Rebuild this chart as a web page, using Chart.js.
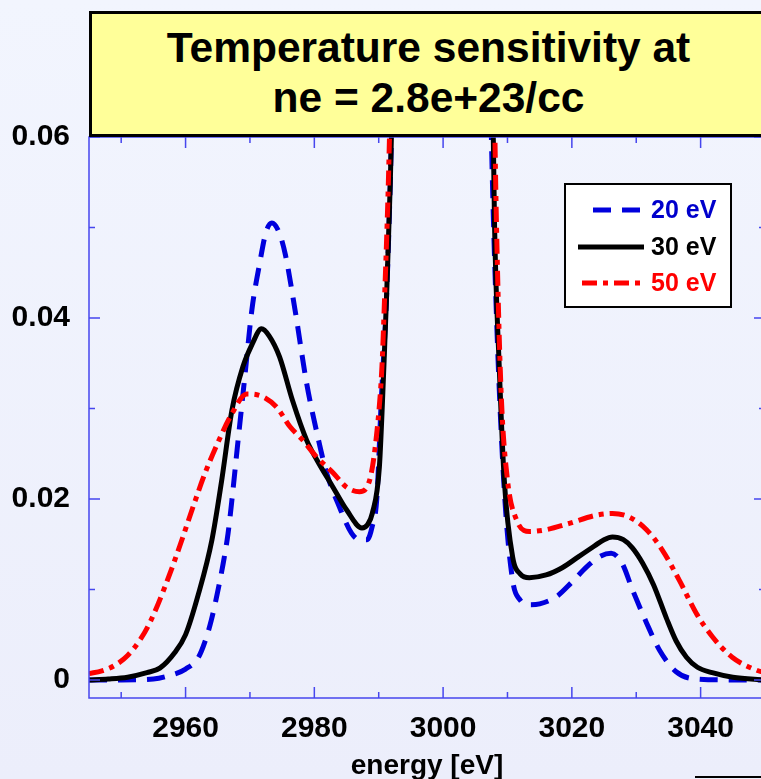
<!DOCTYPE html>
<html>
<head>
<meta charset="utf-8">
<script src="https://cdn.jsdelivr.net/npm/chart.js@4.4.1/dist/chart.umd.min.js"></script>
<style>
  html, body { margin: 0; padding: 0; }
  body {
    width: 761px; height: 779px; overflow: hidden; position: relative;
    background: linear-gradient(#f2f5fe, #eceefb);
    font-family: "Liberation Sans", Arial, sans-serif;
  }
  #wrap { position: absolute; left: 0; top: 0; width: 790px; height: 779px; }
  #title {
    position: absolute; left: 89px; top: 11px; width: 679px; height: 126px;
    box-sizing: border-box; border: 3px solid #000; background: #ffff99;
    padding-top: 9px; text-align: center;
    font: bold 42.5px "Liberation Sans", Arial, sans-serif; line-height: 50px; color: #000;
  }
  #corner { position: absolute; left: 695px; top: 776px; width: 70px; height: 2px; background: #000; }
</style>
</head>
<body>
<div id="wrap"><canvas id="chart"></canvas></div>
<div id="title">Temperature sensitivity at<br>ne = 2.8e+23/cc</div>
<div id="corner"></div>
<script>
const seriesLabels = ['20 eV', '30 eV', '50 eV'];

const energy20 = [2945, 2950, 2955, 2957.6, 2960, 2962, 2963, 2964, 2965, 2966, 2966.6, 2967.2, 2968, 2969.2, 2970.3, 2971.5, 2972.5, 2973.4, 2974.5, 2975.5, 2977, 2978.8, 2980.4, 2981.9, 2983.9, 2985.8, 2987, 2988.2, 2989, 2989.7, 2990.4, 2991.2, 2991.8, 2992.3, 2994, 3000, 3006, 3007.5, 3008.3, 3009.5, 3010.8, 3012, 3013.4, 3015, 3017.6, 3020, 3022.3, 3024.5, 3026.1, 3027.8, 3029.4, 3031.6, 3033.6, 3036.2, 3039.3, 3045, 3050];
const value20 = [0, 0, 0.0001, 0.0005, 0.0012, 0.0025, 0.0042, 0.0066, 0.0098, 0.0135, 0.0162, 0.0199, 0.0254, 0.0335, 0.0409, 0.046, 0.0495, 0.0505, 0.0495, 0.047, 0.0409, 0.0328, 0.0273, 0.0229, 0.0191, 0.0162, 0.0155, 0.0155, 0.017, 0.02, 0.031, 0.042, 0.055, 0.07, 0.12, 0.2, 0.12, 0.06, 0.04, 0.021, 0.011, 0.0088, 0.0083, 0.0084, 0.0092, 0.0108, 0.0125, 0.0137, 0.014, 0.0129, 0.01, 0.0063, 0.0033, 0.0009, 0.0001, 0, 0];

const energy30 = [2945, 2948, 2951, 2954, 2956, 2958.3, 2960, 2962, 2964.1, 2965.6, 2967.2, 2968.9, 2970.4, 2971.8, 2973, 2974.6, 2976.6, 2978.8, 2980.4, 2982.9, 2985, 2987.4, 2988.3, 2989, 2990.1, 2990.8, 2991.2, 2991.8, 2992.3, 2994, 3000, 3006, 3007.6, 3008, 3008.7, 3009.5, 3010.8, 3012, 3013.4, 3016, 3018.5, 3021, 3023.5, 3025, 3026.3, 3028, 3029.4, 3031, 3032.7, 3034.7, 3036.2, 3037.8, 3039.5, 3041.8, 3045, 3050];
const value30 = [0, 0.0001, 0.0003, 0.0008, 0.0013, 0.003, 0.005, 0.0095, 0.0155, 0.022, 0.0298, 0.0346, 0.0372, 0.0388, 0.038, 0.0357, 0.0309, 0.0265, 0.0243, 0.0213, 0.0188, 0.0168, 0.0172, 0.0184, 0.0235, 0.0346, 0.042, 0.055, 0.07, 0.12, 0.2, 0.12, 0.07, 0.05, 0.035, 0.0221, 0.0136, 0.0117, 0.0113, 0.0116, 0.0124, 0.0136, 0.0148, 0.0155, 0.0158, 0.0155, 0.0146, 0.0129, 0.0105, 0.0068, 0.0043, 0.0025, 0.0014, 0.0008, 0.0003, 0];

const energy50 = [2945, 2947, 2949, 2951, 2953, 2954.5, 2956.8, 2959.1, 2961.1, 2963, 2965, 2967.1, 2969.5, 2972, 2974.2, 2976.2, 2978.2, 2980.4, 2982.9, 2985, 2987, 2988.6, 2989.7, 2990.5, 2990.9, 2991.5, 2992, 2994, 3000, 3006, 3007.8, 3008.3, 3009, 3010, 3011.4, 3013.4, 3016, 3019.6, 3023.8, 3026.3, 3028.9, 3031.6, 3034, 3036.7, 3039.3, 3041.8, 3044.9, 3048.6, 3050];
const value50 = [0.0007, 0.001, 0.0016, 0.0027, 0.0045, 0.0064, 0.0103, 0.0148, 0.019, 0.0228, 0.0262, 0.0293, 0.0316, 0.0313, 0.0301, 0.028, 0.0265, 0.0246, 0.0229, 0.0213, 0.0208, 0.0221, 0.0273, 0.0346, 0.042, 0.055, 0.07, 0.12, 0.2, 0.12, 0.07, 0.05, 0.032, 0.0221, 0.0177, 0.0164, 0.0166, 0.0173, 0.0182, 0.0184, 0.018, 0.0166, 0.0144, 0.011, 0.0074, 0.0048, 0.0025, 0.0011, 0.0008];

const xTicks = [2950, 2960, 2970, 2980, 2990, 3000, 3010, 3020, 3030, 3040, 3050];
const xLabels = [2960, 2980, 3000, 3020, 3040];
const yTicks = [0, 0.01, 0.02, 0.03, 0.04, 0.05, 0.06];
const yLabels = [0, 0.02, 0.04, 0.06];

const colors = ['#0000dd', '#000000', '#ff0000'];
const textColors = ['#0000cc', '#000000', '#ff0000'];
const dashes = [[18, 11], [], [15, 6, 5, 6]];

function toPoints(xs, ys) {
  return xs.map((x, i) => ({ x: x, y: ys[i] }));
}

function isLabel(list, v) {
  return list.some(l => Math.abs(l - v) < 1e-9);
}

const tickFont = { family: 'Liberation Sans', size: 30, weight: 'bold' };

// frame with inward ticks + legend box
const frame = {
  id: 'frame',
  afterDatasetsDraw(chart) {
    const { ctx, chartArea: a, scales } = chart;
    ctx.save();
    ctx.strokeStyle = '#4646ee';
    ctx.lineWidth = 1.5;
    ctx.strokeRect(a.left, a.top, a.right - a.left, a.bottom - a.top);
    ctx.beginPath();
    xTicks.forEach(v => {
      const px = scales.x.getPixelForValue(v);
      const len = isLabel(xLabels, v) ? 11 : 6;
      ctx.moveTo(px, a.bottom); ctx.lineTo(px, a.bottom - len);
      ctx.moveTo(px, a.top); ctx.lineTo(px, a.top + len);
    });
    yTicks.forEach(v => {
      const py = scales.y.getPixelForValue(v);
      const len = isLabel(yLabels, v) ? 11 : 6;
      ctx.moveTo(a.left, py); ctx.lineTo(a.left + len, py);
      ctx.moveTo(a.right, py); ctx.lineTo(a.right - len, py);
    });
    ctx.stroke();

    // legend
    const bx = 565, by = 184, bw = 166, bh = 123;
    ctx.fillStyle = '#ffffff';
    ctx.fillRect(bx, by, bw, bh);
    ctx.strokeStyle = '#000';
    ctx.lineWidth = 2;
    ctx.strokeRect(bx, by, bw, bh);
    const rows = [210, 247, 283];
    const starts = [593, 578, 582];
    ctx.font = 'bold 25px "Liberation Sans"';
    ctx.textBaseline = 'middle';
    ctx.textAlign = 'left';
    chart.data.datasets.forEach((ds, i) => {
      ctx.beginPath();
      ctx.strokeStyle = ds.borderColor;
      ctx.lineWidth = ds.borderWidth;
      ctx.setLineDash(ds.borderDash);
      ctx.moveTo(starts[i], rows[i]);
      ctx.lineTo(644, rows[i]);
      ctx.stroke();
      ctx.setLineDash([]);
      ctx.fillStyle = textColors[i];
      ctx.fillText(ds.label, 651, rows[i] + 1);
    });
    ctx.restore();
  }
};

new Chart(document.getElementById('chart'), {
  type: 'line',
  data: {
    datasets: [
      { label: seriesLabels[0], data: toPoints(energy20, value20), order: 3 },
      { label: seriesLabels[1], data: toPoints(energy30, value30), order: 2 },
      { label: seriesLabels[2], data: toPoints(energy50, value50), order: 1 }
    ].map((ds, i) => Object.assign(ds, {
      borderColor: colors[i],
      borderWidth: 5,
      borderDash: dashes[i],
      pointRadius: 0,
      fill: false,
      cubicInterpolationMode: 'monotone'
    }))
  },
  options: {
    responsive: true,
    maintainAspectRatio: false,
    animation: false,
    layout: { padding: { top: 137, right: 25, left: 0, bottom: 0 } },
    plugins: {
      legend: { display: false },
      tooltip: { enabled: false }
    },
    scales: {
      x: {
        type: 'linear',
        min: 2945,
        max: 3050,
        grid: { display: false, drawTicks: false },
        border: { display: false },
        afterBuildTicks: scale => { scale.ticks = xTicks.map(v => ({ value: v })); },
        afterFit: scale => { scale.height = 81; },
        ticks: {
          autoSkip: false,
          maxRotation: 0,
          padding: 13,
          color: '#000',
          font: tickFont,
          callback: v => isLabel(xLabels, v) ? String(v) : ''
        },
        title: {
          display: true,
          text: 'energy [eV]',
          color: '#000',
          font: { family: 'Liberation Sans', size: 28, weight: 'bold' },
          padding: { top: 0, bottom: -4 }
        }
      },
      y: {
        min: -0.002,
        max: 0.06,
        grid: { display: false, drawTicks: false },
        border: { display: false },
        afterBuildTicks: scale => { scale.ticks = yTicks.map(v => ({ value: v })); },
        afterFit: scale => { scale.width = 89; },
        ticks: {
          autoSkip: false,
          padding: 19,
          color: '#000',
          font: tickFont,
          callback: v => isLabel(yLabels, v) ? (v === 0 ? '0' : v.toFixed(2)) : ''
        }
      }
    }
  },
  plugins: [frame]
});
</script>
</body>
</html>
